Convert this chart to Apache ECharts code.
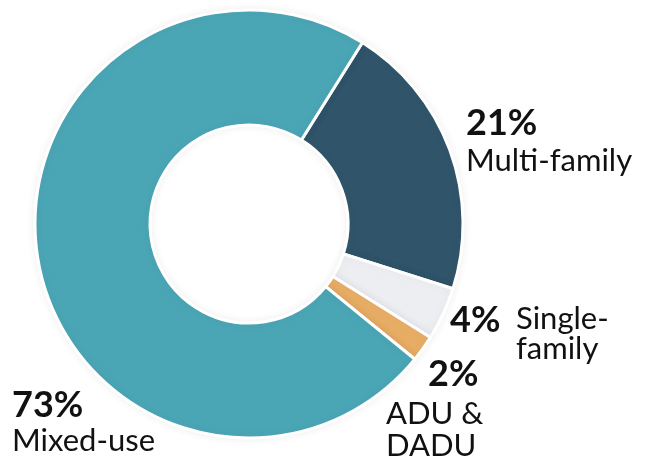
<!DOCTYPE html>
<html>
<head>
<meta charset="utf-8">
<script src="https://cdn.jsdelivr.net/npm/echarts@6/dist/echarts.min.js"></script>
<style>
  html, body { margin: 0; padding: 0; background: #fff; }
  #chart { width: 649px; height: 461px; }
</style>
</head>
<body>
<div id="chart"></div>
<script>
    var categories = ['Multi-family', 'Single-family', 'ADU & DADU', 'Mixed-use'];
    var shares = [21, 4, 2, 73];
    var sliceColors = ['#30546a', '#eceef1', '#e8ad65', '#4aa5b5'];
    // how each label is broken in the picture
    var labelLines = [['Multi-family'], ['Single-', 'family'], ['ADU &', 'DADU'], ['Mixed-use']];

    var chart = echarts.init(document.getElementById('chart'));

    var fontName = 'Lato';
    var pctSize = 36;
    var nameSize = 31;

    function pctText(x, y, idx) {
        return {
            type: 'text', left: x, top: y,
            style: { text: shares[idx] + '%', font: 'bold ' + pctSize + 'px ' + fontName, fill: '#111' }
        };
    }
    function nameText(x, y, idx, lineHeight) {
        return {
            type: 'text', left: x, top: y,
            style: { text: labelLines[idx].join('\n'), font: nameSize + 'px ' + fontName, fill: '#111', lineHeight: lineHeight }
        };
    }

    var pieData = [];
    for (var i = 0; i < categories.length; i++) {
        pieData.push({ name: categories[i], value: shares[i], itemStyle: { color: sliceColors[i] } });
    }

    chart.setOption({
        animation: false,
        backgroundColor: '#fff',
        series: [{
            type: 'pie',
            center: [249, 224],
            radius: [99, 214],
            startAngle: 58,
            clockwise: true,
            label: { show: false },
            labelLine: { show: false },
            itemStyle: {
                borderColor: '#fff',
                borderWidth: 3,
                shadowBlur: 10,
                shadowColor: 'rgba(0,0,0,0.06)'
            },
            emphasis: { disabled: true },
            data: pieData
        }],
        graphic: [
            pctText(466, 105, 0),
            nameText(466, 144, 0, 34),
            pctText(450, 302, 1),
            nameText(516, 303, 1, 30),
            pctText(428, 356, 2),
            nameText(386, 398, 2, 32),
            pctText(12, 387, 3),
            nameText(12, 424, 3, 34)
        ]
    });
</script>
</body>
</html>
